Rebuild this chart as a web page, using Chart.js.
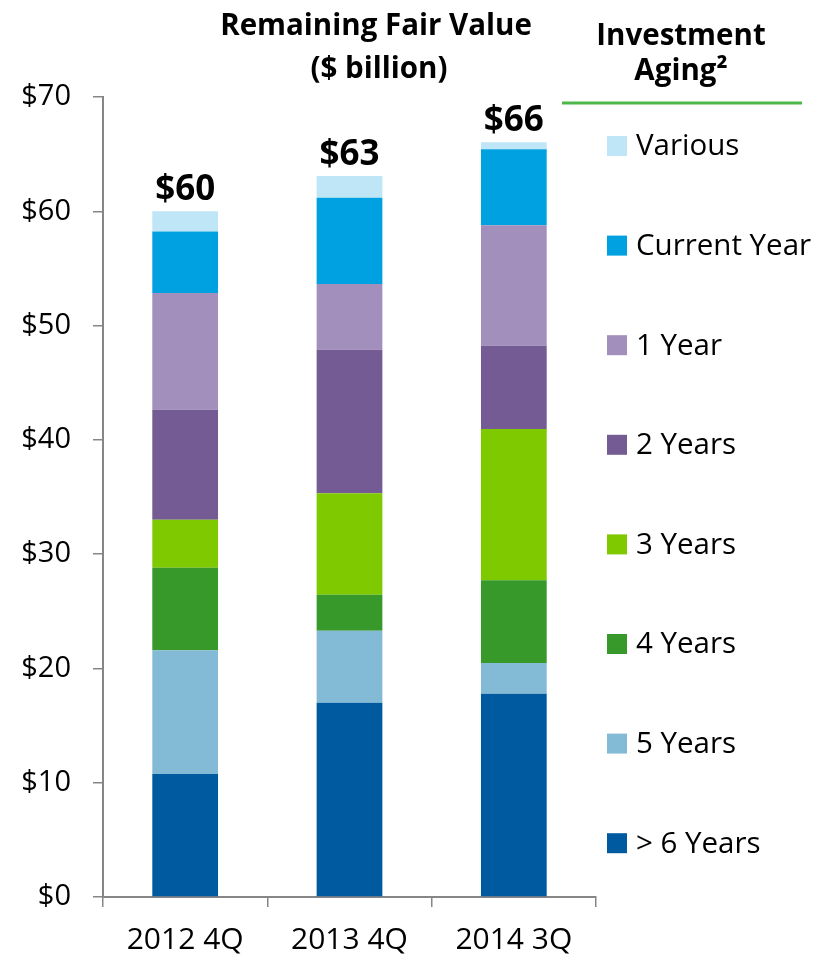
<!DOCTYPE html>
<html>
<head>
<meta charset="utf-8">
<script src="https://cdn.jsdelivr.net/npm/chart.js@4.4.1/dist/chart.umd.min.js"></script>
<style>
  html, body { margin: 0; padding: 0; background: #ffffff; }
  #wrap { position: relative; width: 815px; height: 960px; }
</style>
</head>
<body>
<div id="wrap"><canvas id="c" width="815" height="960"></canvas></div>
<script>
// ---- data ----
const categories = ["2012 4Q", "2013 4Q", "2014 3Q"];
const seriesNames = ["> 6 Years", "5 Years", "4 Years", "3 Years", "2 Years", "1 Year", "Current Year", "Various"];
const over6Years   = [10.76, 17.00, 17.79];
const fiveYears    = [10.82, 6.30, 2.68];
const fourYears    = [7.23, 3.15, 7.24];
const threeYears   = [4.19, 8.87, 13.23];
const twoYears     = [9.63, 12.56, 7.29];
const oneYear      = [10.21, 5.75, 10.54];
const currentYear  = [5.40, 7.55, 6.65];
const various      = [1.76, 1.90, 0.63];
const yTickValues  = [0, 10, 20, 30, 40, 50, 60, 70];
const chartTitle   = ["Remaining Fair Value", "($ billion)"];
const legendTitle  = ["Investment", "Aging\u00B2"];

const seriesValues = [over6Years, fiveYears, fourYears, threeYears, twoYears, oneYear, currentYear, various];
const seriesColors = ["#005A9F", "#83BBD7", "#37992A", "#7FC900", "#755B94", "#A28FBB", "#00A1E0", "#BEE6F6"];

const FONT = "'Open Sans', 'Noto Sans', 'DejaVu Sans', sans-serif";

const datasets = seriesNames.map((name, i) => ({
  label: name,
  data: seriesValues[i],
  backgroundColor: seriesColors[i],
  borderWidth: 0,
  categoryPercentage: 1.0,
  barPercentage: 0.4
}));

const overlayPlugin = {
  id: 'overlay',
  afterDatasetsDraw(chart) {
    const ctx = chart.ctx;
    const xs = chart.scales.x, ys = chart.scales.y;
    ctx.save();
    // totals above bars
    ctx.fillStyle = '#000';
    ctx.font = "bold 35px " + FONT;
    ctx.textAlign = 'center';
    ctx.textBaseline = 'alphabetic';
    categories.forEach((c, i) => {
      let total = 0;
      seriesValues.forEach(s => total += s[i]);
      const x = xs.getPixelForValue(i);
      const y = ys.getPixelForValue(total);
      ctx.fillText("$" + Math.round(total), x, y - 11);
    });
    // chart title
    ctx.font = "bold 29.5px " + FONT;
    ctx.textBaseline = 'middle';
    ctx.fillText(chartTitle[0], 376, 27);
    ctx.fillText(chartTitle[1], 379, 70);
    // legend title
    ctx.font = "bold 29.5px " + FONT;
    ctx.fillText(legendTitle[0], 681, 37);
    ctx.fillText(legendTitle[1], 681, 72);
    // green rule
    ctx.strokeStyle = '#4DB848';
    ctx.lineWidth = 3;
    ctx.beginPath();
    ctx.moveTo(562, 103);
    ctx.lineTo(802, 103);
    ctx.stroke();
    // legend entries (reverse order)
    ctx.font = "29.5px " + FONT;
    ctx.textAlign = 'left';
    const ds = chart.data.datasets.slice().reverse();
    ds.forEach((d, k) => {
      const cy = 146 + k * 99.6;
      ctx.fillStyle = d.backgroundColor;
      ctx.fillRect(607, cy - 10, 20, 20);
      ctx.fillStyle = '#000';
      ctx.fillText(d.label, 636, cy + 1);
    });
    ctx.restore();
  }
};

new Chart(document.getElementById('c'), {
  type: 'bar',
  data: { labels: categories, datasets: datasets },
  plugins: [overlayPlugin],
  options: {
    responsive: false,
    animation: false,
    devicePixelRatio: 1,
    layout: { padding: { top: 97, right: 219, left: 0, bottom: 0 } },
    plugins: { legend: { display: false }, tooltip: { enabled: false }, title: { display: false } },
    scales: {
      x: {
        stacked: true,
        offset: true,
        grid: { display: true, drawOnChartArea: false, offset: true, color: '#868686', tickLength: 10, lineWidth: 1.5 },
        border: { display: true, color: '#868686', width: 2 },
        ticks: { color: '#000', font: { family: FONT, size: 30 }, padding: 15 },
        afterFit(scale) { scale.height = 63; }
      },
      y: {
        stacked: true,
        min: 0,
        max: 70,
        afterBuildTicks(scale) { scale.ticks = yTickValues.map(v => ({ value: v })); },
        grid: { display: true, drawOnChartArea: false, color: '#868686', tickLength: 10, lineWidth: 1.5 },
        border: { display: true, color: '#868686', width: 2 },
        ticks: { color: '#000', font: { family: FONT, size: 29 }, padding: 22, callback: v => "$" + v },
        afterFit(scale) { scale.width = 103; }
      }
    }
  }
});
</script>
</body>
</html>
